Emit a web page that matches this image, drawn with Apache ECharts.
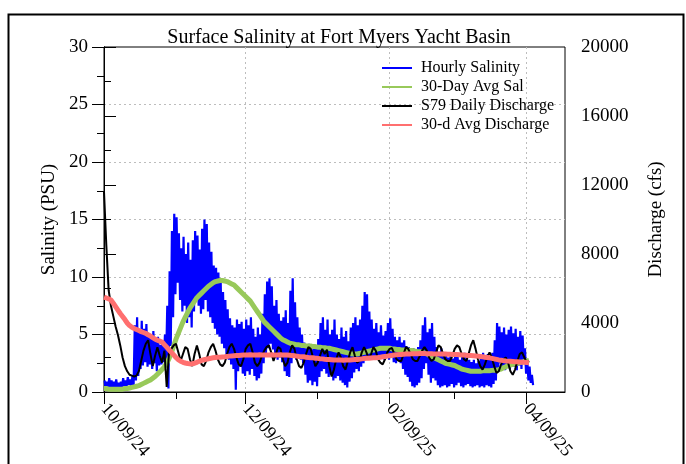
<!DOCTYPE html>
<html>
<head>
<meta charset="utf-8">
<script src="https://cdn.jsdelivr.net/npm/echarts@6/dist/echarts.min.js"></script>
<style>
  html, body { margin: 0; padding: 0; background: #fff; }
  #chart { width: 686px; height: 464px; }
</style>
</head>
<body>
<div id="chart"></div>
<script>
// first day of the record, 10/09/24
const startDate = '2024-10-09';
// tick dates on the x axis (every month), and the ones that get a label
const monthTicks = ['2024-10-09', '2024-11-09', '2024-12-09', '2025-01-09', '2025-02-09', '2025-03-09', '2025-04-09'];
const labelTicks = ['2024-10-09', '2024-12-09', '2025-02-09', '2025-04-09'];
const salTicks = [0, 5, 10, 15, 20, 25, 30];
const flowTicks = [0, 4000, 8000, 12000, 16000, 20000];

// hourly salinity (PSU): daily high and low of the tidal band
const salHigh = [
  1.0, 0.9, 1.2, 1.0, 0.9, 1.1, 0.8, 0.9, 1.2, 1.0,
  1.3, 1.1, 1.4, 5.8, 6.5, 5.2, 6.2, 5.5, 5.9, 4.9,
  4.6, 5.3, 4.4, 4.8, 4.1, 4.5, 5.0, 7.5, 10.5, 14.0,
  15.5, 15.2, 13.8, 12.5, 13.5, 12.0, 13.0, 11.5, 13.2, 14.0,
  13.6, 12.4, 14.2, 15.0, 14.6, 13.0, 12.2, 11.0, 10.8, 10.4,
  9.5, 8.7, 8.0, 7.2, 6.4, 5.8, 5.6, 6.3, 5.9, 6.1,
  5.5, 6.3, 5.8, 6.5, 5.5, 4.8, 5.6, 5.0, 6.8, 8.5,
  9.6, 9.9, 9.2, 7.5, 8.0, 6.8, 6.2, 6.5, 7.1, 6.0,
  8.8, 9.9, 7.8, 6.5, 5.6, 5.0, 4.3, 3.9, 4.2, 3.7,
  4.0, 3.8, 4.6, 6.0, 6.5, 5.4, 6.3, 5.0, 5.4, 6.3,
  5.0, 4.6, 5.6, 4.8, 5.3, 4.4, 5.6, 6.0, 6.5, 5.8,
  6.3, 7.5, 8.7, 8.5, 7.0, 6.3, 5.5, 6.0, 5.2, 5.8,
  4.9, 5.3, 6.0, 6.4, 5.5, 4.8, 4.5, 4.8, 4.3, 4.5,
  4.0, 3.9, 3.6, 3.8, 3.5, 3.9, 4.5, 5.8, 6.5, 5.2,
  5.5, 6.0, 4.8, 3.9, 3.5, 3.8, 3.3, 3.4, 3.0, 3.3,
  2.9, 3.4, 3.1, 2.8, 3.2, 3.4, 2.9, 2.8, 2.6, 2.8,
  2.5, 2.7, 3.0, 3.4, 3.1, 3.3, 2.9, 3.4, 4.5, 6.0,
  5.7, 5.2, 5.6, 5.0, 5.4, 5.7, 5.1, 5.5, 4.8, 5.3,
  4.9, 3.8, 2.8, 2.2, 1.5
];
const salLow = [
  0.2, 0.3, 0.3, 0.4, 0.3, 0.4, 0.3, 0.4, 0.5, 0.5,
  0.6, 0.5, 0.6, 1.0, 1.4, 2.0, 2.3, 2.6, 2.2, 2.4,
  2.0, 2.5, 1.8, 2.3, 2.4, 2.6, 2.8, 0.3, 4.0, 6.5,
  8.5, 9.5, 8.0, 7.0, 7.5, 6.0, 6.5, 5.6, 7.0, 8.0,
  7.5, 6.8, 7.2, 8.0, 7.0, 6.5, 6.0, 5.5, 5.0, 4.8,
  4.2, 3.8, 3.2, 2.8, 2.4, 2.0, 0.2, 1.8, 2.2, 1.6,
  1.4, 1.8, 1.5, 2.0, 1.4, 1.0, 1.2, 1.6, 2.5, 3.4,
  3.8, 4.2, 3.7, 3.0, 2.8, 3.0, 2.6, 1.8, 1.4, 1.3,
  2.5, 3.0, 2.8, 3.1, 2.8, 2.5, 1.5, 0.8, 1.0, 0.6,
  0.9, 0.5, 1.3, 1.8, 2.0, 1.6, 1.3, 1.5, 1.0, 1.2,
  1.4, 1.0, 0.8, 0.6, 0.4, 0.9, 1.2, 1.7, 2.0, 1.8,
  2.2, 2.5, 2.8, 3.0, 2.8, 3.0, 2.9, 2.8, 3.0, 2.9,
  2.8, 3.1, 2.8, 3.0, 2.6, 2.5, 2.7, 2.5, 2.0, 1.5,
  1.3, 0.9, 0.5, 0.4, 0.6, 0.8, 1.2, 2.0, 2.5, 1.5,
  0.8, 1.2, 1.0, 0.6, 0.4, 0.5, 0.6, 0.4, 0.5, 0.7,
  0.4, 0.6, 0.8, 0.5, 0.4, 0.6, 0.7, 0.5, 0.4, 0.5,
  0.6, 0.4, 0.5, 0.4, 0.6, 0.5, 0.4, 0.7, 1.0, 1.9,
  2.5, 2.2, 1.9, 2.4, 2.0, 2.6, 2.2, 1.9, 2.3, 2.0,
  2.5, 1.6, 1.0, 0.8, 0.6
];

// 30-day average salinity (PSU), daily
const sal30 = [
  0.3, 0.3, 0.25, 0.25, 0.25, 0.25, 0.25, 0.25, 0.25, 0.3,
  0.3, 0.35, 0.4, 0.45, 0.5, 0.55, 0.65, 0.75, 0.85, 0.95,
  1.05, 1.2, 1.35, 1.55, 1.75, 1.95, 2.2, 2.5, 2.9, 3.4,
  4.0, 4.6, 5.1, 5.6, 6.1, 6.5, 6.9, 7.3, 7.6, 7.9,
  8.2, 8.4, 8.6, 8.8, 9.0, 9.2, 9.35, 9.5, 9.6, 9.65,
  9.7, 9.7, 9.65, 9.6, 9.5, 9.4, 9.3, 9.1, 8.9, 8.7,
  8.5, 8.3, 8.1, 7.9, 7.6, 7.3, 7.0, 6.7, 6.4, 6.1,
  5.9, 5.7, 5.5, 5.3, 5.1, 4.9, 4.7, 4.55, 4.45, 4.35,
  4.25, 4.2, 4.15, 4.1, 4.1, 4.05, 4.05, 4.0, 4.0, 4.0,
  3.95, 3.95, 3.9, 3.9, 3.85, 3.85, 3.8, 3.8, 3.75, 3.7,
  3.65, 3.6, 3.55, 3.5, 3.45, 3.4, 3.35, 3.3, 3.3, 3.3,
  3.35, 3.4, 3.45, 3.5, 3.55, 3.6, 3.65, 3.7, 3.75, 3.8,
  3.8, 3.8, 3.8, 3.8, 3.75, 3.75, 3.7, 3.7, 3.65, 3.65,
  3.65, 3.65, 3.6, 3.6, 3.55, 3.5, 3.5, 3.45, 3.4, 3.35,
  3.2, 3.1, 3.0, 2.9, 2.8, 2.7, 2.6, 2.5, 2.45, 2.4,
  2.35, 2.3, 2.2, 2.1, 2.0, 1.95, 1.9, 1.85, 1.8, 1.8,
  1.8, 1.8, 1.8, 1.85, 1.85, 1.85, 1.85, 1.88, 1.9, 1.9,
  1.95, 2.0, 2.1, 2.2, 2.3, 2.35, 2.4, 2.45, 2.5, 2.55,
  2.6, 2.65, 2.7, 2.75
];

// S79 daily discharge (cfs)
const flowDaily = [
  11600, 8500, 5900, 5000, 4400, 3800, 3300, 2700, 2000, 1500,
  1200, 1000, 950, 900, 950, 1200, 1800, 2400, 2800, 3000,
  2200, 1500, 2100, 2600, 2100, 1700, 2400, 300, 2300, 2500,
  2700, 2800, 2300, 1800, 2200, 2600, 2500, 1900, 1500, 2200,
  2700, 2200, 1600, 1500, 1800, 2300, 2600, 2800, 2400, 1900,
  1600, 1500, 1700, 2200, 2600, 2800, 2500, 2000, 1600, 1500,
  1900, 2500, 2700, 2800, 2300, 1700, 1500, 1700, 2100, 2400,
  2600, 2700, 2300, 1800, 2200, 2600, 2500, 1900, 1500, 1700,
  2300, 2700, 2500, 1900, 1500, 1400, 1700, 2200, 2600, 2500,
  2000, 1500, 1700, 2100, 2500, 2200, 2450, 1500, 900, 1300,
  1900, 2300, 2000, 1500, 1300, 1800, 2300, 2600, 2100, 1700,
  1800, 2300, 2600, 2300, 1900, 2200, 2600, 2400, 1900, 1700,
  1600, 1900, 2300, 2500, 2550, 2200, 1900, 1800, 1800, 2200,
  2600, 2500, 2200, 1900, 1800, 1800, 2100, 2400, 2600, 2400,
  2000, 1800, 1900, 2300, 2700, 2600, 2200, 1900, 1800, 1800,
  2100, 2500, 2700, 2600, 2200, 1900, 1800, 2200, 2700, 3000,
  2500, 1900, 1500, 1300, 1600, 2000, 2300, 2000, 1500, 1100,
  1200, 1600, 1900, 2000, 1700, 1200, 1000, 1300, 1800, 2200,
  2300, 2000, 1700, 1800
];

// 30-day average discharge (cfs)
const flow30 = [
  5500, 5450, 5400, 5330, 5150, 4950, 4750, 4550, 4380, 4200,
  4000, 3850, 3750, 3680, 3620, 3560, 3500, 3450, 3400, 3320,
  3250, 3150, 3070, 3000, 2950, 2900, 2750, 2600, 2450, 2300,
  2150, 2000, 1870, 1780, 1720, 1680, 1650, 1630, 1640, 1670,
  1720, 1780, 1830, 1870, 1900, 1930, 1960, 1980, 2000, 2010,
  2020, 2030, 2040, 2060, 2080, 2090, 2100, 2110, 2120, 2130,
  2140, 2150, 2150, 2160, 2150, 2140, 2150, 2160, 2150, 2150,
  2140, 2150, 2160, 2150, 2140, 2150, 2160, 2150, 2140, 2150,
  2130, 2110, 2100, 2080, 2060, 2050, 2040, 2020, 2000, 1990,
  1980, 1960, 1950, 1930, 1920, 1900, 1890, 1880, 1870, 1860,
  1860, 1850, 1850, 1840, 1850, 1850, 1860, 1870, 1880, 1890,
  1900, 1920, 1940, 1950, 1960, 1970, 1980, 1990, 2000, 2020,
  2040, 2060, 2080, 2100, 2120, 2140, 2160, 2170, 2180, 2190,
  2200, 2210, 2210, 2220, 2220, 2220, 2230, 2230, 2230, 2220,
  2220, 2220, 2210, 2210, 2200, 2200, 2200, 2200, 2190, 2190,
  2180, 2180, 2170, 2160, 2150, 2140, 2130, 2120, 2110, 2100,
  2090, 2080, 2060, 2040, 2020, 2000, 1980, 1950, 1920, 1890,
  1860, 1840, 1820, 1800, 1790, 1780, 1770, 1760, 1750, 1740,
  1730, 1720, 1710, 1700
];

// x is counted in days since startDate
const DAY = 86400000;
const t0 = Date.parse(startDate);
const dayNum = s => Math.round((Date.parse(s) - t0) / DAY);
const hourly = [];
salHigh.forEach((v, i) => {
  hourly.push([i + 0.25, v]);
  hourly.push([i + 0.75, salLow[i]]);
});
const daily = arr => arr.map((v, i) => [i, v]);

const pad = n => String(n).padStart(2, '0');
const fmtDate = v => {
  const d = new Date(t0 + Math.round(v) * DAY);
  return pad(d.getUTCMonth() + 1) + '/' + pad(d.getUTCDate()) + '/' + pad(d.getUTCFullYear() % 100);
};

const serif = 'Liberation Serif';
const xMax = 198.5;
const gridLine = { color: '#bdbdbd', type: [2, 3], width: 1 };

const chart = echarts.init(document.getElementById('chart'));
chart.setOption({
  animation: false,
  backgroundColor: '#fff',
  textStyle: { fontFamily: serif, color: '#000' },
  title: {
    text: 'Surface Salinity at Fort Myers Yacht Basin',
    left: 334, top: 23, textAlign: 'center',
    textStyle: { fontFamily: serif, fontSize: 20, fontWeight: 'normal', color: '#000' }
  },
  legend: {
    orient: 'vertical', left: 377, top: 55,
    icon: 'rect', itemWidth: 30, itemHeight: 2, itemGap: 3,
    textStyle: { fontFamily: serif, fontSize: 16, color: '#000', padding: [0, 0, 0, 4] },
    data: ['Hourly Salinity', '30-Day Avg Sal', 'S79 Daily Discharge', '30-d Avg Discharge']
  },
  graphic: [{
    type: 'rect', left: 6, top: 12, silent: true,
    shape: { width: 675, height: 480 },
    style: { fill: 'none', stroke: '#000', lineWidth: 2 }
  }],
  grid: { left: 104, right: 121, top: 47, bottom: 72, show: true, borderColor: '#000', borderWidth: 1 },
  xAxis: [{
    type: 'value', min: 0, max: xMax,
    axisLine: { lineStyle: { color: '#000', width: 1 } },
    axisTick: { customValues: monthTicks.map(dayNum), length: 7, lineStyle: { color: '#000' } },
    axisLabel: { show: false },
    splitLine: { show: false }
  }, {
    type: 'value', min: 0, max: xMax, position: 'bottom',
    axisLine: { show: false },
    axisTick: { customValues: labelTicks.map(dayNum), length: 12, lineStyle: { color: '#000' } },
    axisLabel: {
      customValues: labelTicks.map(dayNum), rotate: -49, margin: 14,
      fontFamily: serif, fontSize: 18, color: '#000', formatter: fmtDate
    },
    splitLine: { show: true, showMinLine: false, lineStyle: gridLine }
  }],
  yAxis: [{
    type: 'value', min: salTicks[0], max: salTicks[salTicks.length - 1], interval: 5,
    name: 'Salinity (PSU)', nameLocation: 'middle', nameGap: 45, nameRotate: 90,
    nameTextStyle: { fontFamily: serif, fontSize: 19, color: '#000' },
    axisLine: { show: true, lineStyle: { color: '#000' } },
    axisTick: { show: true, length: 12, lineStyle: { color: '#000' } },
    minorTick: { show: true, splitNumber: 2, length: 7, lineStyle: { color: '#000' } },
    axisLabel: { fontFamily: serif, fontSize: 19, color: '#000', margin: 16, formatter: v => String(v) },
    splitLine: { show: true, showMinLine: false, showMaxLine: false, lineStyle: gridLine }
  }, {
    type: 'value', min: flowTicks[0], max: flowTicks[flowTicks.length - 1], interval: 4000,
    name: 'Discharge (cfs)', nameLocation: 'middle', nameGap: 82, nameRotate: 90,
    nameTextStyle: { fontFamily: serif, fontSize: 19, color: '#000' },
    axisLine: { show: true, lineStyle: { color: '#000' } },
    axisTick: { show: true, length: 12, lineStyle: { color: '#000' } },
    minorTick: { show: true, splitNumber: 2, length: 7, lineStyle: { color: '#000' } },
    axisLabel: { fontFamily: serif, fontSize: 19, color: '#000', margin: 16, formatter: v => String(v) },
    splitLine: { show: false }
  }],
  series: [{
    name: 'Hourly Salinity', type: 'line', yAxisIndex: 0, data: hourly,
    showSymbol: false, color: '#0000ff', lineStyle: { width: 2.2, color: '#0000ff' }
  }, {
    name: '30-Day Avg Sal', type: 'line', yAxisIndex: 0, data: daily(sal30),
    showSymbol: false, color: '#98c95a', lineStyle: { width: 5, color: '#98c95a' }
  }, {
    name: 'S79 Daily Discharge', type: 'line', yAxisIndex: 1, data: daily(flowDaily),
    showSymbol: false, color: '#000', lineStyle: { width: 2, color: '#000' }
  }, {
    name: '30-d Avg Discharge', type: 'line', yAxisIndex: 1, data: daily(flow30),
    showSymbol: false, color: '#ff6f6f', lineStyle: { width: 5, color: '#ff6f6f' }
  }]
});
</script>
</body>
</html>
